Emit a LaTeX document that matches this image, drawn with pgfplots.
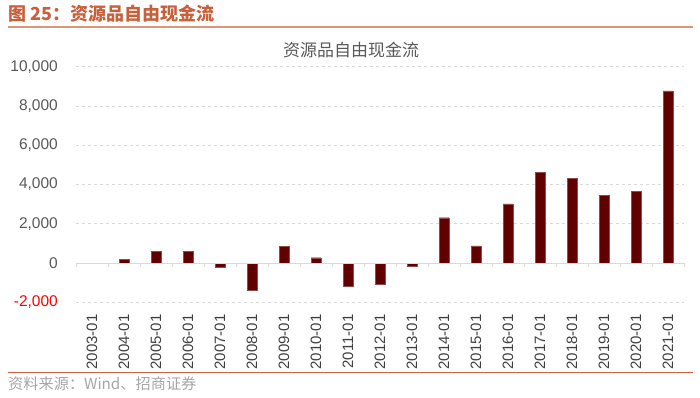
\documentclass[border=0pt]{standalone}
\usepackage{pgfplots}
\pgfplotsset{compat=1.18}
\usetikzlibrary{calc}
\usepackage{fontspec}
\setmainfont{Liberation Sans}
\newfontfamily\cjk{Noto Sans CJK SC}
\definecolor{hdr}{RGB}{200,96,60}
\definecolor{hdrline}{RGB}{222,150,120}
\definecolor{ftline}{RGB}{205,100,65}
\definecolor{bar}{RGB}{96,0,0}
\definecolor{tk}{RGB}{89,89,89}
\definecolor{gridc}{RGB}{217,217,217}
\begin{document}
\begin{tikzpicture}[x=1pt,y=1pt]
\path[use as bounding box] (0,0) rectangle (700,397);
\node[anchor=west, text=hdr, inner sep=0pt] at (8,383) {\fontsize{18}{21}\selectfont\cjk\bfseries 图 25：资源品自由现金流};
\draw[hdrline, line width=1.6pt] (8,370) -- (693,370);
\draw[ftline, line width=1.2pt] (8,24.5) -- (693,24.5);
\node[anchor=west, text=black!35, inner sep=0pt] at (8,13.5) {\fontsize{15.2}{17}\selectfont\cjk 资料来源：Wind、招商证券};
\node[text=tk, inner sep=0pt] at (351,347) {\fontsize{17}{19}\selectfont\cjk 资源品自由现金流};
\begin{axis}[
  at={(76pt,94.7pt)}, anchor=south west,
  scale only axis, width=608pt, height=235.6pt,
  xmin=-0.5, xmax=18.5, ymin=-2000, ymax=10000,
  ytick={-2000,0,2000,4000,6000,8000,10000},
  scaled y ticks=false,
  xtick={0,...,18},
  xticklabels={2003-01,2004-01,2005-01,2006-01,2007-01,2008-01,2009-01,2010-01,2011-01,2012-01,2013-01,2014-01,2015-01,2016-01,2017-01,2018-01,2019-01,2020-01,2021-01},
  axis line style={draw=none},
  major tick length=0pt,
  tick style={draw=none},
  ymajorgrids, grid style={dashed, gridc, line width=0.8pt},
  /pgf/number format/assume math mode=true,
  /pgf/number format/1000 sep={,},
  yticklabel={\ifdim\tick pt<0pt\textcolor{red}{\pgfmathprintnumber{\tick}}\else\pgfmathprintnumber{\tick}\fi},
  yticklabel style={font=\fontsize{15.5}{18}\selectfont, text=tk, anchor=east, inner sep=0pt, xshift=-18pt},
  xticklabel style={font=\fontsize{15}{17}\selectfont, text=black!75, rotate=90, anchor=east, inner sep=0pt, xshift=-12pt},
  clip=false,
]
\addplot[ybar, bar width=10pt, fill=bar, draw=bar!70!white, line width=0.3pt] table {
x y
0 0
1 190
2 580
3 580
4 -200
5 -1400
6 850
7 270
8 -1170
9 -1090
10 -180
11 2310
12 880
13 3010
14 4610
15 4300
16 3435
17 3640
18 8775
};
\draw[gridc, line width=1pt] (axis cs:-0.5,0) -- (axis cs:18.5,0);
\pgfplotsinvokeforeach{-0.5,0.5,...,18.5}{
  \draw[gridc, line width=1pt] (axis cs:#1,0) -- ++(0pt,-4pt);
}
\end{axis}
\end{tikzpicture}
\end{document}
